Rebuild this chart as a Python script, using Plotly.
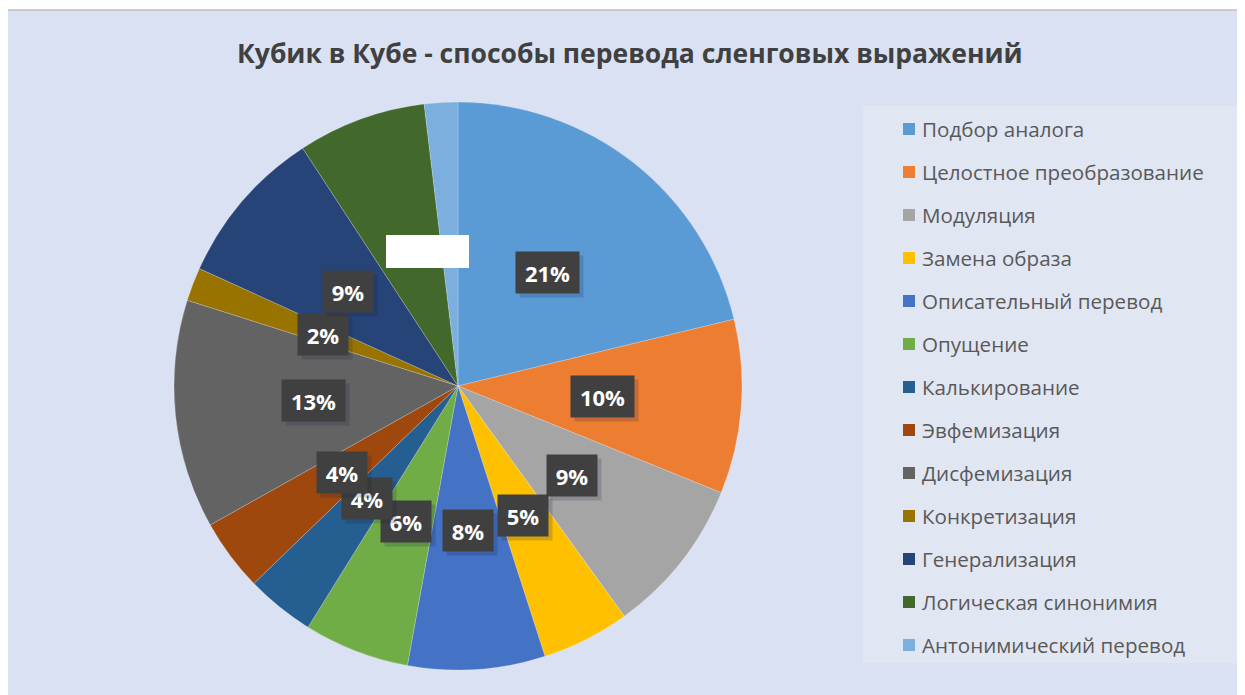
import math
import plotly.graph_objects as go

# ---- data ----
categories = [
    "Подбор аналога",
    "Целостное преобразование",
    "Модуляция",
    "Замена образа",
    "Описательный перевод",
    "Опущение",
    "Калькирование",
    "Эвфемизация",
    "Дисфемизация",
    "Конкретизация",
    "Генерализация",
    "Логическая синонимия",
    "Антонимический перевод",
]
values = [21.2, 9.9, 8.9, 5.0, 7.8, 6.0, 3.9, 4.1, 13.0, 1.9, 9.0, 7.3, 1.9]
show_label = [True, True, True, True, True, True, True, True, True, True, True, False, False]
colors = ["#5B9BD5", "#ED7D31", "#A5A5A5", "#FFC000", "#4472C4", "#70AD47",
          "#255E91", "#9E480E", "#636363", "#997300", "#264478", "#43682B", "#7CAFDD"]
title = "Кубик в Кубе - способы перевода сленговых выражений"

W, H = 1245, 695
OX, OY = 8, 8  # page body margin offset
FONT = "Open Sans"


def px(x):
    return (x - OX) / W


def py(y):
    return 1 - (y - OY) / H


# pie geometry (pixels in the screenshot)
cx_px, cy_px, R_px = 458, 386, 284

fig = go.Figure()
fig.add_trace(go.Pie(
    labels=categories, values=values, sort=False, direction="clockwise", rotation=0,
    marker=dict(colors=colors, line=dict(color="rgba(255,255,255,0.35)", width=0.6)),
    textinfo="none", hoverinfo="label+percent", showlegend=False,
    domain=dict(x=[px(cx_px - R_px), px(cx_px + R_px)],
                y=[py(cy_px + R_px), py(cy_px - R_px)]),
))

shapes = []
annotations = []

# chart area background + border
shapes.append(dict(type="rect", xref="paper", yref="paper", x0=px(7), x1=1.05, y0=-0.05, y1=py(10),
                   fillcolor="#DAE1F3", line=dict(color="#BFBFBF", width=1.5), layer="below"))
# legend box
shapes.append(dict(type="rect", xref="paper", yref="paper", x0=px(863), x1=px(1240),
                   y0=py(663), y1=py(106), fillcolor="#E1E6F3", line=dict(width=0), layer="below"))

# title
annotations.append(dict(text="<b>" + title + "</b>", x=px(630), y=py(53), xref="paper", yref="paper",
                        showarrow=False, font=dict(family=FONT, size=26.5, color="#404040"),
                        xanchor="center", yanchor="middle"))

# data labels at centre of each slice (half radius, mid angle)
total = sum(values)
cum = 0.0
for v, show in zip(values, show_label):
    mid = (cum + v / 2) / total * 2 * math.pi
    cum += v
    if not show:
        continue
    r = 0.51 * R_px
    x_px = cx_px + r * math.sin(mid)
    y_px = cy_px - r * math.cos(mid)
    txt = f"{round(v / total * 100)}%"
    bw = 18 + 13 * len(txt)
    # soft shadow
    annotations.append(dict(text=" ", x=px(x_px + 4), y=py(y_px + 4), xref="paper", yref="paper",
                            showarrow=False, font=dict(family=FONT, size=22, color="white"),
                            bgcolor="rgba(20,30,60,0.18)", width=bw, height=35, borderpad=3,
                            xanchor="center", yanchor="middle"))
    annotations.append(dict(text="<b>" + txt + "</b>", x=px(x_px), y=py(y_px), xref="paper", yref="paper",
                            showarrow=False, font=dict(family=FONT, size=22, color="white"),
                            bgcolor="#404040", width=bw, height=35, borderpad=3,
                            xanchor="center", yanchor="middle"))

# white cover box
shapes.append(dict(type="rect", xref="paper", yref="paper", x0=px(386), x1=px(469),
                   y0=py(268), y1=py(235), fillcolor="white", line=dict(width=0)))

# manual legend
for i, (name, col) in enumerate(zip(categories, colors)):
    yc = 129 + i * 43.0
    shapes.append(dict(type="rect", xref="paper", yref="paper", x0=px(903), x1=px(915),
                       y0=py(yc + 6), y1=py(yc - 6), fillcolor=col, line=dict(width=0)))
    annotations.append(dict(text=name, x=px(920), y=py(yc), xref="paper", yref="paper",
                            showarrow=False, font=dict(family=FONT, size=20.6, color="#595959"),
                            xanchor="left", yanchor="middle"))

fig.update_layout(
    width=W, height=H, margin=dict(l=0, r=0, t=0, b=0),
    paper_bgcolor="white", plot_bgcolor="white",
    shapes=shapes, annotations=annotations,
)
fig.write_html("out.html")
